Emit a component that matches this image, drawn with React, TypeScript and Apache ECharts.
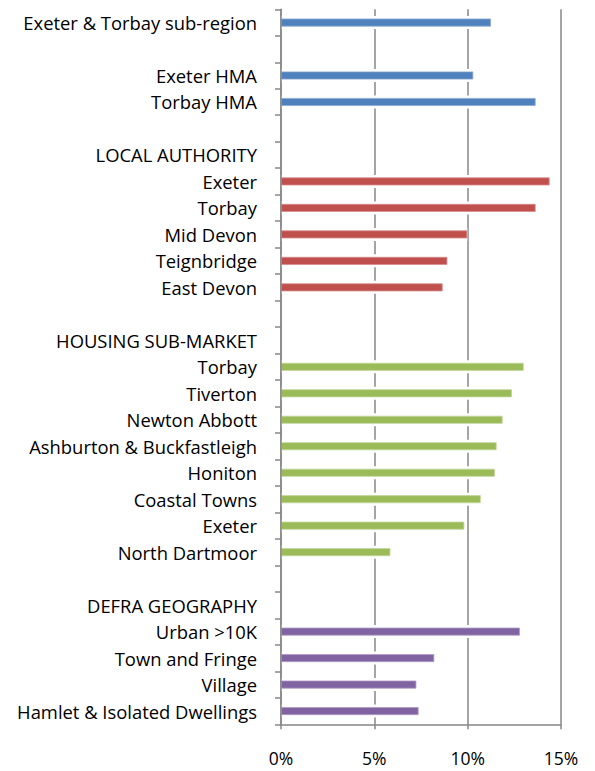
import React, { useEffect, useRef } from "react";
import * as echarts from "echarts";

const categories: string[] = [
  "Exeter & Torbay sub-region",
  "",
  "Exeter HMA",
  "Torbay HMA",
  " ",
  "LOCAL AUTHORITY",
  "Exeter",
  "Torbay",
  "Mid Devon",
  "Teignbridge",
  "East Devon",
  "  ",
  "HOUSING SUB-MARKET",
  "Torbay",
  "Tiverton",
  "Newton Abbott",
  "Ashburton & Buckfastleigh",
  "Honiton",
  "Coastal Towns",
  "Exeter",
  "North Dartmoor",
  "   ",
  "DEFRA GEOGRAPHY",
  "Urban >10K",
  "Town and Fringe",
  "Village",
  "Hamlet & Isolated Dwellings",
];

// values in %, null where the row belongs to another group
const subRegionValues: (number | null)[] = [
  11.25, null, 10.3, 13.64, null, null, null, null, null, null, null, null, null, null,
  null, null, null, null, null, null, null, null, null, null, null, null, null,
];
const localAuthorityValues: (number | null)[] = [
  null, null, null, null, null, null, 14.39, 13.64, 9.98, 8.91, 8.66, null, null, null,
  null, null, null, null, null, null, null, null, null, null, null, null, null,
];
const subMarketValues: (number | null)[] = [
  null, null, null, null, null, null, null, null, null, null, null, null, null, 13.0,
  12.37, 11.87, 11.55, 11.46, 10.7, 9.82, 5.86, null, null, null, null, null, null,
];
const defraValues: (number | null)[] = [
  null, null, null, null, null, null, null, null, null, null, null, null, null, null,
  null, null, null, null, null, null, null, null, null, 12.8, 8.21, 7.25, 7.37,
];

const xTicks = [0, 5, 10, 15];

const FONT = "Open Sans";

export default function App() {
  const ref = useRef<HTMLDivElement>(null);
  useEffect(() => {
    if (!ref.current) return;
    const chart = echarts.init(ref.current, undefined, { renderer: "svg" });
    const mk = (name: string, data: (number | null)[], color: string, edge: string) => ({
      name,
      type: "bar",
      stack: "all",
      yAxisIndex: 0,
      z: 3,
      data: data.map((v) => (v == null ? "-" : v)),
      barWidth: 8,
      itemStyle: { color, borderColor: edge, borderWidth: 0.8 },
    });
    // white halo behind every bar (hides the gridlines around bars)
    const haloValues = categories.map((_, i) => {
      const v =
        subRegionValues[i] ?? localAuthorityValues[i] ?? subMarketValues[i] ?? defraValues[i];
      return v == null ? "-" : v;
    });
    chart.setOption({
      animation: false,
      backgroundColor: "#ffffff",
      grid: { left: 281, right: 34, top: 9.3, bottom: 46.7, containLabel: false },
      xAxis: {
        type: "value",
        min: xTicks[0],
        max: xTicks[xTicks.length - 1],
        interval: 5,
        z: 0,
        axisLine: { show: true, lineStyle: { color: "#878787", width: 1.5 } },
        axisTick: { show: true, length: 5, lineStyle: { color: "#878787", width: 1.5 } },
        splitLine: { show: true, lineStyle: { color: "#878787", width: 1.5 } },
        axisLabel: {
          formatter: (v: number) => `${v}%`,
          fontFamily: FONT,
          fontSize: 17.5,
          lineHeight: 16,
          color: "#000",
          margin: 26,
        },
      },
      yAxis: [
        {
          type: "category",
          inverse: true,
          data: categories,
          z: 10,
          axisLine: { show: true, lineStyle: { color: "#878787", width: 1.5 } },
          axisTick: { show: true, length: 6, lineStyle: { color: "#878787", width: 1.5 } },
          axisLabel: {
            fontFamily: FONT,
            fontSize: 18.4,
            color: "#000",
            margin: 24,
            interval: 0,
          },
          splitLine: { show: false },
        },
        {
          type: "category",
          inverse: true,
          data: categories,
          show: false,
        },
      ],
      series: [
        {
          name: "halo",
          type: "bar",
          yAxisIndex: 1,
          z: 2,
          barWidth: 13,
          data: haloValues,
          itemStyle: { color: "#ffffff" },
          silent: true,
        },
        mk("sub-region", subRegionValues, "#4F81BD", "#8eaad3"),
        mk("local authority", localAuthorityValues, "#C0504D", "#d68d8b"),
        mk("sub-market", subMarketValues, "#9BBB59", "#c2d69b"),
        mk("defra", defraValues, "#8064A2", "#ae9cc4"),
      ],
    });
    return () => chart.dispose();
  }, []);
  return (
    <div
      ref={ref}
      style={{ position: "absolute", left: 0, top: 0, width: 595, height: 771 }}
    />
  );
}
